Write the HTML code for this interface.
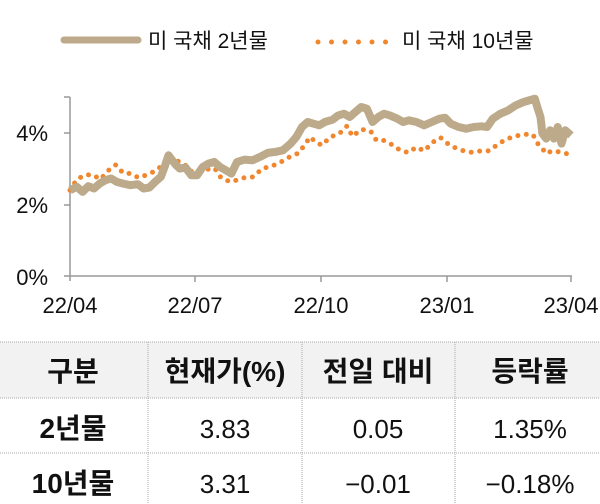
<!DOCTYPE html>
<html><head><meta charset="utf-8"><style>
body{margin:0;width:600px;height:504px;background:#fff;overflow:hidden;font-family:"Liberation Sans","Noto Sans CJK KR",sans-serif;}
</style></head><body>
<svg id="s" width="600" height="504" xmlns="http://www.w3.org/2000/svg" style="position:absolute;left:0;top:0">
<g font-family="Liberation Sans, Noto Sans CJK KR, sans-serif" fill="#111">
<line x1="64" y1="40" x2="138" y2="40" stroke="#bcaa8a" stroke-width="7" stroke-linecap="round"/>
<text x="148" y="48" font-size="21">미 국채 2년물</text>
<line x1="318" y1="42" x2="392" y2="42" stroke="#f0862e" stroke-width="5" stroke-linecap="round" stroke-dasharray="0 13.5"/>
<text x="402" y="48" font-size="21">미 국채 10년물</text>
<line x1="70" y1="97" x2="70" y2="281" stroke="#999" stroke-width="1.5"/>
<line x1="64" y1="276" x2="572" y2="276" stroke="#999" stroke-width="1.5"/>
<g stroke="#999" stroke-width="1.5">
<line x1="64" y1="205" x2="70" y2="205"/><line x1="64" y1="133" x2="70" y2="133"/><line x1="64" y1="97" x2="70" y2="97"/>
<line x1="195" y1="276" x2="195" y2="282"/><line x1="321" y1="276" x2="321" y2="282"/><line x1="447" y1="276" x2="447" y2="282"/><line x1="571" y1="276" x2="571" y2="282"/>
</g>
<g font-size="22" text-anchor="end"><text x="48" y="141">4%</text><text x="48" y="213">2%</text><text x="48" y="285">0%</text></g>
<g font-size="22" text-anchor="middle"><text x="70" y="313">22/04</text><text x="195" y="313">22/07</text><text x="321" y="313">22/10</text><text x="447" y="313">23/01</text><text x="571" y="313">23/04</text></g>
<polyline id="p10" fill="none" stroke="#f0862e" stroke-width="5" stroke-linecap="round" stroke-dasharray="0 8.5"/>
<polyline id="p2" fill="none" stroke="#bcaa8a" stroke-width="8" stroke-linejoin="round"/>
<rect x="0" y="342" width="600" height="56" fill="#f2f2f2"/>
<g stroke="#aaa" stroke-width="1" stroke-dasharray="1 1">
<line x1="0" y1="342" x2="600" y2="342"/><line x1="0" y1="398" x2="600" y2="398"/><line x1="0" y1="453" x2="600" y2="453"/>
<line x1="148" y1="342" x2="148" y2="504"/><line x1="302" y1="342" x2="302" y2="504"/><line x1="455" y1="342" x2="455" y2="504"/>
</g>
<g font-size="28" text-anchor="middle" font-weight="600">
<text x="73" y="381">구분</text><text x="225" y="381">현재가(%)</text><text x="378" y="381">전일 대비</text><text x="530" y="381">등락률</text>
<text x="73" y="438">2년물</text><text x="73" y="493">10년물</text>
</g>
<g font-size="26" text-anchor="middle">
<text x="225" y="438">3.83</text><text x="378" y="438">0.05</text><text x="530" y="438">1.35%</text>
<text x="225" y="493">3.31</text><text x="378" y="493">−0.01</text><text x="530" y="493">−0.18%</text>
</g>
</g>
</svg>
<script>
var a=[182,330,200,320,215,335,230,318,245,325,260,310,275,300,290,295,305,305,320,310,340,315,360,312,375,325,390,322,405,305,420,290,430,260,440,225,450,240,460,255,470,265,485,262,500,285,515,285,530,260,545,250,560,245,575,260,590,270,605,280,620,245,640,238,660,240,680,230,700,218,720,215,740,210,760,190,775,170,790,140,805,125,820,130,835,135,850,125,870,118,885,105,900,100,915,110,930,95,945,80,960,85,975,125,990,110,1005,100,1020,105,1040,115,1055,125,1070,120,1090,125,1110,135,1130,125,1150,115,1165,112,1180,130,1200,140,1220,145,1240,140,1260,138,1275,140,1290,115,1310,100,1330,90,1350,75,1370,65,1385,60,1400,55,1408,85,1415,110,1420,160,1430,175,1440,150,1450,175,1460,140,1470,190,1480,150,1490,160,1495,165];
var b=[182,330,200,298,220,285,240,283,262,297,282,271,302,254,321,278,341,280,361,292,389,282,411,268,430,248,440,228,460,240,482,252,497,273,517,272,539,268,561,264,578,293,602,305,618,300,640,292,662,290,686,265,710,258,734,246,752,233,782,218,797,193,812,170,823,183,842,195,864,170,888,160,908,137,922,168,946,147,970,153,985,180,1003,180,1029,195,1047,210,1069,217,1089,201,1111,212,1131,187,1153,172,1175,193,1192,203,1214,212,1232,216,1260,212,1280,212,1300,195,1323,178,1347,168,1371,162,1395,163,1408,190,1420,205,1430,220,1445,212,1465,215,1490,222];
function c(v){var o=[];for(var i=0;i<v.length;i+=2){o.push((70+(v[i]-182)*0.3816).toFixed(1)+","+(276+(v[i+1]-588)*0.3326).toFixed(1));}return o.join(" ");}
document.getElementById("p2").setAttribute("points",c(a));
document.getElementById("p10").setAttribute("points",c(b));
</script>
</body></html>
